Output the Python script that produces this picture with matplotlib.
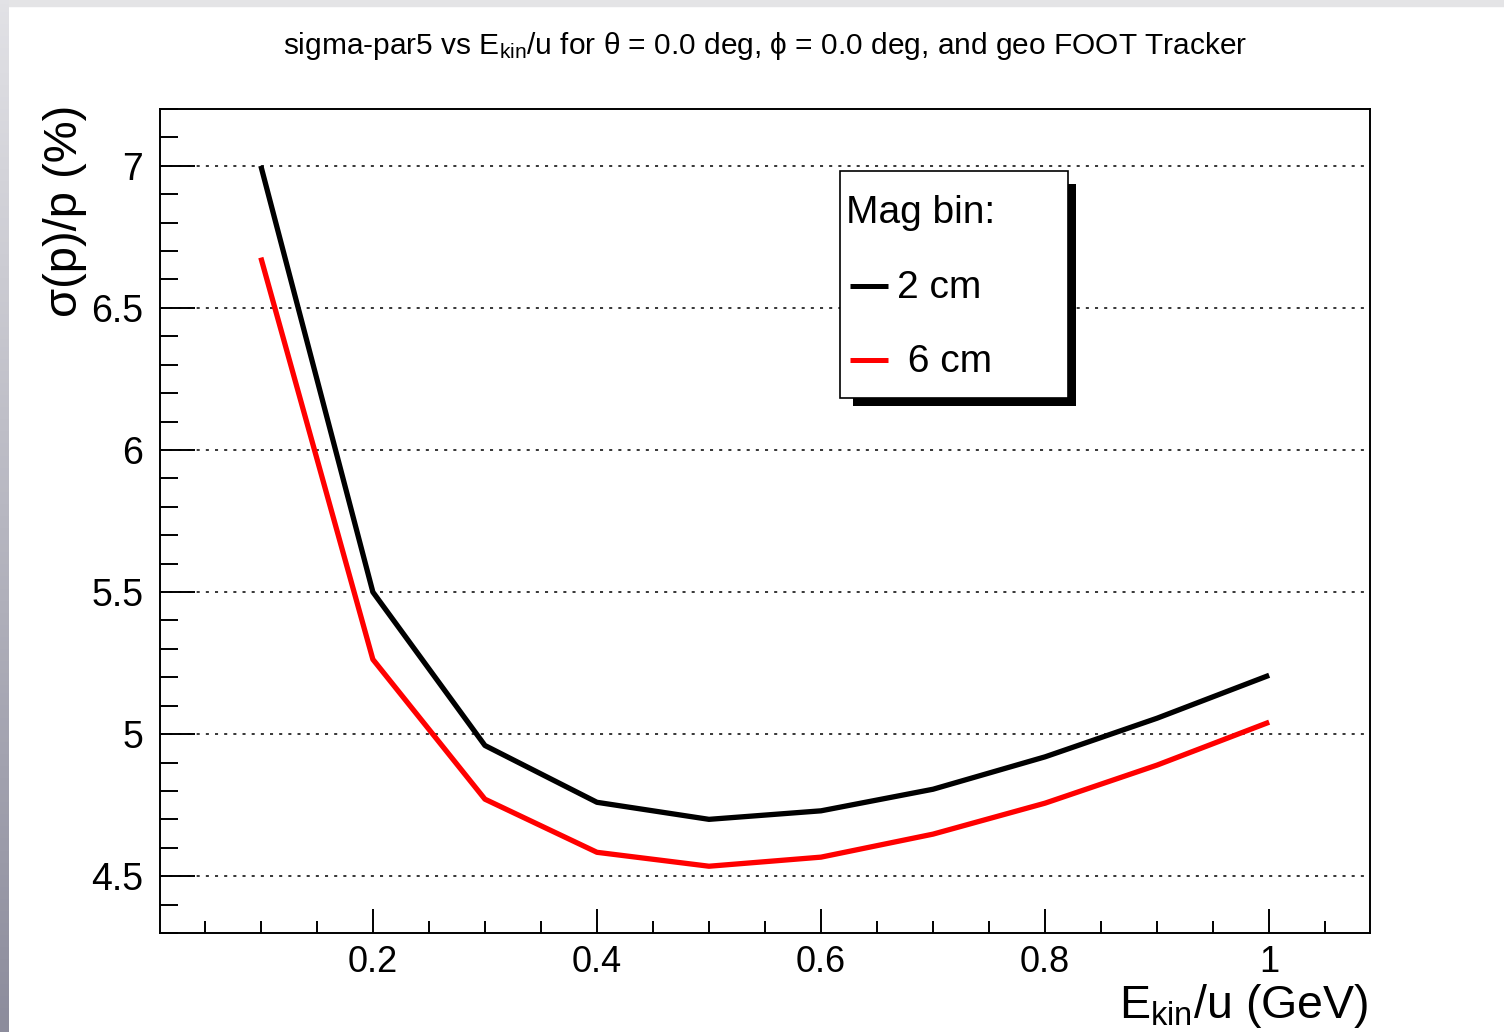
import numpy as np
import matplotlib
matplotlib.use("Agg")
import matplotlib.pyplot as plt
from matplotlib.lines import Line2D
from matplotlib.patches import Rectangle
from matplotlib.ticker import MultipleLocator

plt.rcParams['font.family'] = ['Liberation Sans', 'DejaVu Sans']
plt.rcParams['mathtext.fontset'] = 'custom'
plt.rcParams['mathtext.rm'] = 'Liberation Sans'
plt.rcParams['mathtext.it'] = 'Liberation Sans:italic'

# Data
ekin = [0.1, 0.2, 0.3, 0.4, 0.5, 0.6, 0.7, 0.8, 0.9, 1.0]
sigma_2cm = [7.00, 5.50, 4.96, 4.76, 4.70, 4.73, 4.806, 4.92, 5.056, 5.207]
sigma_6cm = [6.677, 5.263, 4.771, 4.584, 4.535, 4.567, 4.648, 4.757, 4.891, 5.042]
series_labels = ['2 cm', ' 6 cm']
series_colors = ['black', '#ff0000']

W, H = 1504, 1032
fig = plt.figure(figsize=(W / 100, H / 100), dpi=100)
fig.patch.set_facecolor('white')

# screenshot frame: grey band on top and gradient strip on the left
fig.add_artist(Rectangle((0, 1 - 6 / H), 1, 6 / H, transform=fig.transFigure,
                         color='#e4e4e6', zorder=0))
gax = fig.add_axes([0, 0, 9 / W, 1])
grad = np.linspace(0, 1, 256).reshape(-1, 1)
gax.imshow(grad, aspect='auto', cmap=matplotlib.colors.LinearSegmentedColormap.from_list(
    'g', ['#e2e2e6', '#8c8c9c']), extent=[0, 1, 0, 1], origin='upper')
gax.axis('off')

ax = fig.add_axes([160 / W, 1 - 933 / H, 1210 / W, 824 / H])
ax.set_xlim(0.01, 1.09)
ax.set_ylim(4.3, 7.2)

for y, col in zip([sigma_2cm, sigma_6cm], series_colors):
    ax.plot(ekin, y, color=col, lw=3.8, solid_capstyle='butt', zorder=3)

ax.xaxis.set_major_locator(MultipleLocator(0.2))
ax.xaxis.set_minor_locator(MultipleLocator(0.05))
ax.yaxis.set_major_locator(MultipleLocator(0.5))
ax.yaxis.set_minor_locator(MultipleLocator(0.1))
ax.xaxis.set_major_formatter(matplotlib.ticker.FuncFormatter(lambda v, p: f'{v:g}'))
ax.yaxis.set_major_formatter(matplotlib.ticker.FuncFormatter(lambda v, p: f'{v:g}'))

ax.tick_params(axis='x', which='major', direction='in', length=17, width=1.4,
               labelsize=26, pad=9, top=False)
ax.tick_params(axis='x', which='minor', direction='in', length=8.5, width=1.4, top=False)
ax.tick_params(axis='y', which='major', direction='in', length=25, width=1.4,
               labelsize=27, pad=12, right=False)
ax.tick_params(axis='y', which='minor', direction='in', length=13, width=1.4, right=False)
for s in ax.spines.values():
    s.set_linewidth(1.4)

ax.yaxis.grid(True, which='major', color='black', lw=1.1, linestyle=(0, (2, 4)))
ax.set_axisbelow(True)

fig.text(765 / W, 1 - 54 / H,
         r'sigma-par5 vs E$_{\mathrm{kin}}$/u for θ = 0.0 deg, ϕ = 0.0 deg, and geo FOOT Tracker',
         ha='center', va='baseline', fontsize=21.5)
fig.text(1368 / W, 1 - 1018 / H, r'E$_{\mathrm{kin}}$/u (GeV)',
         ha='right', va='baseline', fontsize=33.5)
fig.text(65 / W, 1 - 105 / H, 'σ(p)/p (%)', rotation=90,
         ha='center', va='top', fontsize=34)

# legend box with ROOT-style shadow
fig.add_artist(Rectangle((853 / W, 1 - 406 / H), 223 / W, 222 / H,
                         transform=fig.transFigure, facecolor='black',
                         edgecolor='none', zorder=4))
fig.add_artist(Rectangle((840 / W, 1 - 398 / H), 228 / W, 227 / H,
                         transform=fig.transFigure, facecolor='white',
                         edgecolor='black', lw=1.2, zorder=5))
fig.text(846 / W, 1 - 213 / H, 'Mag bin:', ha='left', va='center',
         fontsize=28, zorder=6)
for i, (lab, col) in enumerate(zip(series_labels, series_colors)):
    yc = 1 - (286 + 74 * i) / H
    fig.add_artist(Line2D([850 / W, 888 / W], [yc, yc], transform=fig.transFigure,
                          color=col, lw=3.6, solid_capstyle='butt', zorder=6))
    fig.text(897 / W, yc - 2 / H, lab, ha='left', va='center', fontsize=28, zorder=6)

fig.savefig('out.png', dpi=100)
